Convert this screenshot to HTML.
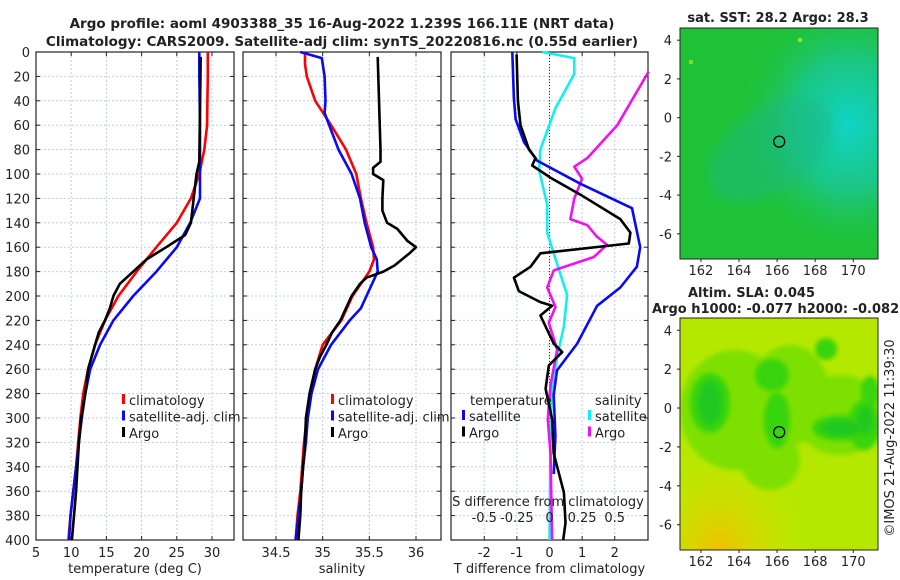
<!DOCTYPE html>
<html><head><meta charset="utf-8"><style>
body{margin:0;background:#fff;}
svg{display:block;font-family:"DejaVu Sans","Liberation Sans",sans-serif;}
</style></head><body>
<svg id="c" width="900" height="580" viewBox="0 0 900 580" xmlns="http://www.w3.org/2000/svg">
<defs>
<radialGradient id="sstCyan" cx="0.85" cy="0.42" r="0.55"><stop offset="0" stop-color="#10d4c8"/><stop offset="0.5" stop-color="#1ac89a" stop-opacity="0.8"/><stop offset="1" stop-color="#1ec24a" stop-opacity="0"/></radialGradient>
<radialGradient id="slaOrange" cx="0.2" cy="1" r="0.45"><stop offset="0" stop-color="#f0c000"/><stop offset="1" stop-color="#d8e800" stop-opacity="0"/></radialGradient>
<filter id="blur"><feGaussianBlur stdDeviation="5"/></filter>
<filter id="blur2"><feGaussianBlur stdDeviation="2.5"/></filter>
<clipPath id="m1clip"><rect x="680" y="28" width="198" height="231"/></clipPath>
<clipPath id="m2clip"><rect x="680" y="318" width="198" height="232"/></clipPath>
</defs>
</svg>
<script>
// ---- data (depth in m) ----
const climDepth=[0,10,20,40,60,80,100,120,140,160,180,200,220,240,260,280,300,320,340,360,380,400];
const climT=[29.4,29.4,29.4,29.35,29.3,28.9,28.2,27.0,25.0,22.1,19.3,16.7,14.8,13.4,12.4,11.7,11.3,11.0,10.7,10.3,9.9,9.6];
const satT=[28.2,28.2,28.2,28.25,28.3,28.3,28.3,28.3,26.9,25.0,22.1,18.8,16.0,14.1,12.7,12.0,11.5,11.1,10.7,10.3,9.9,9.7];
const argoTDepth=[4,90,100,120,140,150,160,170,180,190,200,210,220,230,240,260,280,300,320,340,360,380,400];
const argoT=[28.4,28.2,27.8,27.4,27.0,26.2,23.5,20.7,18.8,16.9,16.0,15.5,14.8,13.9,13.4,12.4,12.0,11.4,11.1,10.9,10.7,10.4,10.1];
const climSDepth=[0,10,20,40,60,80,100,120,140,160,170,180,200,220,240,260,280,300,320,340,360,380,400];
const climS=[34.81,34.81,34.83,34.92,35.09,35.25,35.36,35.41,35.47,35.54,35.55,35.50,35.32,35.20,35.00,34.92,34.86,34.83,34.80,34.78,34.76,34.73,34.71];
const satSDepth=[0,5,20,40,50,60,80,100,120,140,160,170,180,200,210,220,240,260,280,300,320,340,360,380,400];
const satS=[34.76,34.99,35.02,35.03,35.02,35.07,35.17,35.31,35.40,35.45,35.52,35.58,35.59,35.47,35.41,35.29,35.09,34.95,34.88,34.84,34.82,34.79,34.77,34.74,34.71];
const argoSDepth=[4,80,90,95,100,105,120,130,140,145,155,160,165,175,180,185,190,200,210,220,230,240,250,260,280,300,320,340,360,380,400];
const argoS=[35.59,35.62,35.62,35.54,35.54,35.65,35.64,35.64,35.69,35.80,35.91,36.0,35.93,35.77,35.65,35.47,35.40,35.31,35.25,35.19,35.10,35.04,34.97,34.92,34.86,34.82,34.81,34.79,34.77,34.76,34.74];
const dTsatDepth=[0,38,55,74,89,108,128,160,176,193,208,239,261,281,315,346];
const dTsat=[-1.14,-1.09,-1.04,-0.78,-0.38,0.95,2.53,2.78,2.68,2.17,1.46,0.85,0.23,0.13,0.18,0.13];
const dTargoDepth=[2,40,60,80,87,93,103,117,137,148,157,165,176,185,196,205,208,216,239,246,257,276,301,329,361,386,400];
const dTargo=[-1.01,-0.97,-0.89,-0.63,-0.43,-0.53,0.03,0.95,2.17,2.48,2.43,-0.28,-0.58,-1.09,-0.94,-0.28,0.08,-0.28,0.13,0.39,-0.02,-0.12,0.08,0.13,0.44,0.49,0.42];
const dSsatDepth=[0,5,18,46,80,97,125,148,174,199,225,244,273,315,400];
const dSsat=[-0.056,0.19,0.19,0.046,-0.07,-0.08,-0.018,-0.018,0.059,0.135,0.11,0.07,0.02,0.008,0];
const dSargoDepth=[16,60,87,94,104,120,137,142,151,158,168,179,193,209,222,244,273,301,329,400];
const dSargo=[0.76,0.52,0.29,0.19,0.25,0.19,0.16,0.29,0.36,0.44,0.34,0.033,-0.018,0.046,-0.005,0.059,0.008,-0.013,0.008,0.02];
const depthTicks=[0,20,40,60,80,100,120,140,160,180,200,220,240,260,280,300,320,340,360,380,400];
const tempTicks=[5,10,15,20,25,30];
const salTicks=[34.5,35,35.5,36];
const dTTicks=[-2,-1,0,1,2];
const dSTicks=[-0.5,-0.25,0,0.25,0.5];
const dSTickLabels=["-0.5","-0.25","0","0.25","0.5"];
const lonTicks=[162,164,166,168,170];
const latTicks=[4,2,0,-2,-4,-6];
const argoLon=166.11, argoLat=-1.239;

const NS="http://www.w3.org/2000/svg";
const svg=document.getElementById('c');
function mk(tag,attrs,parent){const e=document.createElementNS(NS,tag);for(const k in attrs)e.setAttribute(k,attrs[k]);(parent||svg).appendChild(e);return e;}
function txt(x,y,s,size,anchor,weight,parent){const t=mk('text',{x:x,y:y,'font-size':size,'text-anchor':anchor||'middle','font-weight':weight||'normal',fill:'#222'},parent);t.textContent=s;return t;}

const Y0=52,Y1=540;
const yD=d=>Y0+d/400*(Y1-Y0);
const panels=[
 {name:'temperature',x0:36,x1:234,v0:5,v1:33.125},
 {name:'salinity',x0:243,x1:441,v0:34.146,v1:36.268},
 {name:'difference',x0:451,x1:648,v0:-3.02,v1:3.02}
];
function xs(p,v){return p.x0+(v-p.v0)/(p.v1-p.v0)*(p.x1-p.x0);}

function drawPanel(p,ticks,labels,xlabel,yLabels){
  const g=mk('g',{});
  
  
  ticks.forEach(v=>{mk('line',{x1:xs(p,v),x2:xs(p,v),y1:Y0,y2:Y1,stroke:'#c4ccec','stroke-width':1,'stroke-dasharray':'2,2'},g);});
  depthTicks.forEach(d=>{mk('line',{x1:p.x0,x2:p.x1,y1:yD(d),y2:yD(d),stroke:'#c4ccec','stroke-width':1,'stroke-dasharray':'2,2'},g);});
  mk('rect',{x:p.x0,y:Y0,width:p.x1-p.x0,height:Y1-Y0,fill:'none',stroke:'#222','stroke-width':1.2},g);
  depthTicks.forEach(d=>{mk('line',{x1:p.x0,x2:p.x0+4,y1:yD(d),y2:yD(d),stroke:'#222'},g);mk('line',{x1:p.x1,x2:p.x1-4,y1:yD(d),y2:yD(d),stroke:'#222'},g);
    if(yLabels)txt(p.x0-6,yD(d)+5,String(d),13,'end','normal',g);});
  ticks.forEach((v,i)=>{mk('line',{x1:xs(p,v),x2:xs(p,v),y1:Y1,y2:Y1-4,stroke:'#222'},g);mk('line',{x1:xs(p,v),x2:xs(p,v),y1:Y0,y2:Y0+4,stroke:'#222'},g);
    txt(xs(p,v),557,labels?labels[i]:String(v),13,'middle','normal',g);});
  const xl=txt((p.x0+p.x1)/2,573,xlabel,13,'middle','normal',g);
  
  
  return g;
}
function line(p,vals,depths,color,name,scale){
  const pts=vals.map((v,i)=>xs(p,v*(scale||1)).toFixed(1)+','+yD(depths[i]).toFixed(1)).join(' ');
  const e=mk('polyline',{points:pts,fill:'none',stroke:color,'stroke-width':2.6,'stroke-linejoin':'round'});
  
  
}
function legend(x,y,items){
  items.forEach((it,i)=>{mk('rect',{x:x,y:y+i*16.5-11,width:3,height:10,fill:it[1]});
    const t=txt(x+7,y+i*16.5,it[0],13,'start');
    
    });
}

const p1=panels[0],p2=panels[1],p3=panels[2];
drawPanel(p1,tempTicks,null,'temperature (deg C)',true);
line(p1,climT,climDepth,'#f00','temp-climatology-line');
line(p1,satT,climDepth,'#0a0af0','temp-satellite-line');
line(p1,argoT,argoTDepth,'#000','temp-argo-line');
legend(122,405,[['climatology','#f00'],['satellite-adj. clim','#0a0af0'],['Argo','#000']]);

drawPanel(p2,salTicks,['34.5','35','35.5','36'],'salinity',false);
line(p2,climS,climSDepth,'#f00','sal-climatology-line');
line(p2,satS,satSDepth,'#0a0af0','sal-satellite-line');
line(p2,argoS,argoSDepth,'#000','sal-argo-line');
legend(331,405,[['climatology','#f00'],['satellite-adj. clim','#0a0af0'],['Argo','#000']]);

drawPanel(p3,dTTicks,null,'T difference from climatology',false);
mk('line',{x1:xs(p3,0),x2:xs(p3,0),y1:Y0,y2:Y1,stroke:'#333','stroke-width':1,'stroke-dasharray':'1,2'});
line(p3,dSsat,dSsatDepth,'#10f0f0','sdiff-satellite-line',4);
line(p3,dSargo,dSargoDepth,'#f010f0','sdiff-argo-line',4);
line(p3,dTsat,dTsatDepth,'#0a0af0','tdiff-satellite-line');
line(p3,dTargo,dTargoDepth,'#000','tdiff-argo-line');
txt(470,405,'temperature',13,'start');
txt(595,405,'salinity',13,'start');
legend(462,421,[['satellite','#0a0af0'],['Argo','#000']]);
legend(588,421,[['satellite','#10f0f0'],['Argo','#f010f0']]);
const st=txt(548,506,'S difference from climatology',13,'middle');


dSTicks.forEach((v,i)=>txt(xs(p3,v*4),522,dSTickLabels[i],13,'middle'));

const t1=txt(342,28,'Argo profile: aoml 4903388_35 16-Aug-2022 1.239S 166.11E (NRT data)',13.5,'middle','bold');

const t2=txt(342,46,'Climatology: CARS2009. Satellite-adj clim: synTS_20220816.nc (0.55d earlier)',13.5,'middle','bold');


// ---- maps ----
const MX0=680,MX1=878,LON0=160.9,LON1=171.3,LAT0=4.63,LAT1=-7.3;
function mapAxes(y0,y1,g){
  const lx=v=>MX0+(v-LON0)/(LON1-LON0)*(MX1-MX0);
  const ly=v=>y0+(v-LAT0)/(LAT1-LAT0)*(y1-y0);
  mk('rect',{x:MX0,y:y0,width:MX1-MX0,height:y1-y0,fill:'none',stroke:'#222','stroke-width':1},g);
  lonTicks.forEach(v=>{mk('line',{x1:lx(v),x2:lx(v),y1:y1,y2:y1+3,stroke:'#222'},g);txt(lx(v),y1+16,String(v),13,'middle','normal',g);});
  latTicks.forEach(v=>{mk('line',{x1:MX0-3,x2:MX0,y1:ly(v),y2:ly(v),stroke:'#222'},g);txt(MX0-8,ly(v)+5,String(v),13,'end','normal',g);});
  const c=mk('circle',{cx:lx(argoLon),cy:ly(argoLat),r:5.5,fill:'none',stroke:'#000','stroke-width':1.3},g);
  
  
}
const m1=mk('g',{});

const m1in=mk('g',{'clip-path':'url(#m1clip)'},m1);
mk('rect',{x:680,y:28,width:198,height:231,fill:'#1fc237'},m1in);
mk('rect',{x:680,y:28,width:198,height:231,fill:'url(#sstCyan)'},m1in);
mk('ellipse',{cx:770,cy:150,rx:70,ry:40,fill:'#1ab883',opacity:0.5,filter:'url(#blur)',transform:'rotate(-35 770 150)'},m1in);
mk('rect',{x:798,y:38,width:4,height:4,fill:'#8fe020'},m1in);
mk('rect',{x:689,y:60,width:4,height:4,fill:'#7fe020'},m1in);
mapAxes(28,259,m1);
txt(778,22,'sat. SST: 28.2 Argo: 28.3',13,'middle','bold',m1);

const m2=mk('g',{});

const m2in=mk('g',{'clip-path':'url(#m2clip)'},m2);
mk('rect',{x:680,y:318,width:198,height:232,fill:'#b4e800'},m2in);
mk('rect',{x:680,y:318,width:198,height:232,fill:'url(#slaOrange)'},m2in);
// light-green mid band
[[735,410,55,60],[790,395,40,50],[840,415,45,40],[770,460,30,30]].forEach(a=>mk('ellipse',{cx:a[0],cy:a[1],rx:a[2],ry:a[3],fill:'#7ee000',filter:'url(#blur2)'},m2in));
// darker green blobs
[[710,403,20,30],[772,375,17,16],[777,420,13,28],[864,425,16,25],[840,428,28,13],[826,349,11,11],[870,392,9,16]].forEach(a=>mk('ellipse',{cx:a[0],cy:a[1],rx:a[2],ry:a[3],fill:'#38d40c',filter:'url(#blur2)'},m2in));
[[710,403,12,22],[841,428,20,8],[865,420,8,14]].forEach(a=>mk('ellipse',{cx:a[0],cy:a[1],rx:a[2],ry:a[3],fill:'#20c820',filter:'url(#blur2)'},m2in));
mapAxes(318,550,m2);
txt(688,297,'Altim. SLA: 0.045',13,'start','bold',m2);
txt(652,313,'Argo h1000: -0.077 h2000: -0.082',13,'start','bold',m2);
const cr=txt(0,0,'©IMOS 21-Aug-2022 11:39:30',13,'middle','normal');
cr.setAttribute('transform','translate(894,438) rotate(-90)');


</script>
</body></html>
